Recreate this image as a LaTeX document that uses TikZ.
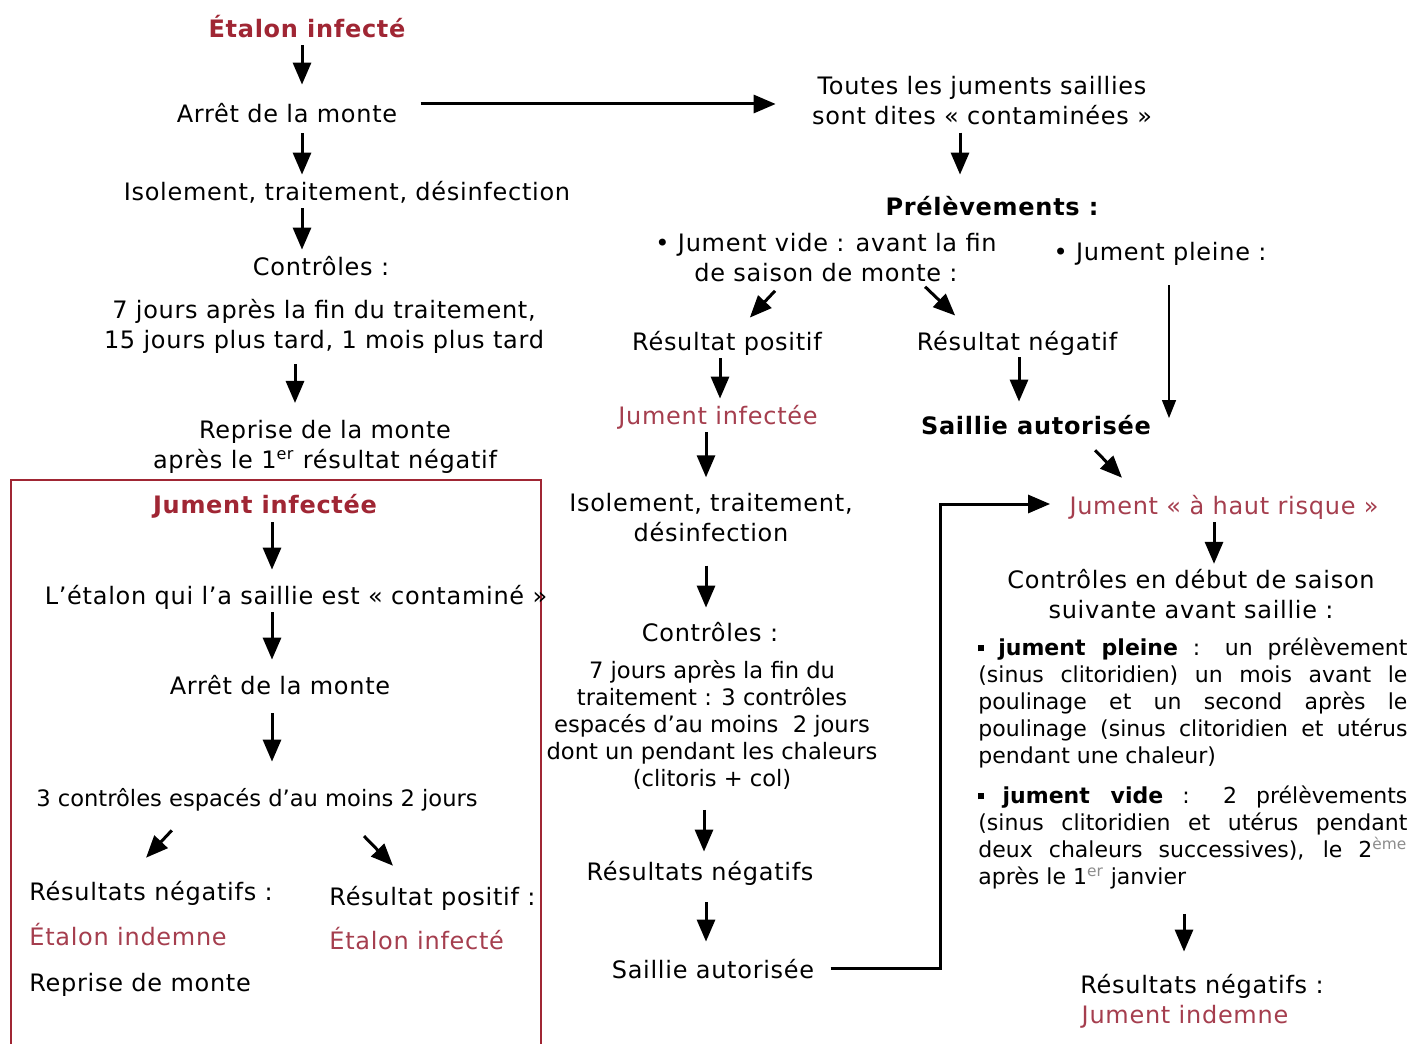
\documentclass[tikz,border=0pt]{standalone}
\usepackage{fontspec}
\setmainfont{DejaVu Sans}[LetterSpace=3]
\newfontfamily\plainfont{DejaVu Sans}
\usetikzlibrary{arrows.meta}
\definecolor{wine}{RGB}{160,38,52}
\definecolor{winelight}{RGB}{165,62,78}
\definecolor{supgray}{RGB}{140,140,140}
\newcommand{\sqbul}{\raisebox{1.8pt}{\rule{2.6pt}{3pt}}}
\begin{document}
\begin{tikzpicture}[x=0.5pt,y=-0.5pt,
  one/.style={inner sep=1pt, text height=11pt, text depth=1pt, font=\fontsize{12}{15}\selectfont},
  multi/.style={inner sep=1pt, align=center, font=\fontsize{12}{15}\selectfont},
  small/.style={inner sep=1pt, align=center, font=\plainfont\fontsize{11.3}{13.5}\selectfont},
  smallone/.style={one, font=\plainfont\fontsize{11.3}{13.5}\selectfont},
  boldone/.style={one, font=\fontsize{12}{15}\selectfont\bfseries},
  boldred/.style={boldone, text=wine},
  redtxt/.style={one, text=winelight},
  para/.style={anchor=north west, inner sep=0pt, align=left, font=\plainfont\fontsize{11}{13.5}\selectfont},
  arr/.style={line width=1.5pt, -{Triangle[length=11pt,width=9pt]}},
  thinarr/.style={line width=0.7pt, -{Triangle[length=9pt,width=7pt]}},
  frame/.style={draw=wine, line width=0.6pt}
]
\useasboundingbox[fill=white] (0,0) rectangle (1411,1043);

% ---------- left column (stallion) ----------
\node[boldred] (n1) at (307,28) {Étalon infecté};
\node[one] (n2) at (287,113) {Arrêt de la monte};
\node[one] (n3) at (347,190) {Isolement, traitement, désinfection};
\node[one] (n4) at (321,265) {Contrôles :};
\node[multi] (n5) at (324,326) {7 jours après la fin du traitement,\\15 jours plus tard, 1 mois plus tard};
\node[multi] (n6) at (325,447) {Reprise de la monte\\après le 1\textsuperscript{er} résultat négatif};

\draw[arr, shorten <=1.5pt, shorten >=7pt] (n1.south -| 302,0) -- (n2.north -| 302,0);
\draw[arr, shorten <=3pt, shorten >=0.5pt] (n2.south -| 302,0) -- (n3.north -| 302,0);
\draw[arr, shorten <=2pt, shorten >=0.5pt] (n3.south -| 302,0) -- (n4.north -| 302,0);
\draw[arr, shorten <=4.5pt, shorten >=7.5pt] (n5.south -| 295,0) -- (n6.north -| 295,0);

% ---------- framed box ----------
\draw[frame] (11,1060) -- (11,480) -- (541,480) -- (541,1060);
\node[boldred] (b1) at (265,503) {Jument infectée};
\node[one] (b2) at (296,594) {L’étalon qui l’a saillie est « contaminé »};
\node[one] (b3) at (280,684) {Arrêt de la monte};
\node[smallone] (b4) at (257,796) {3 contrôles espacés d’au moins 2 jours};
\node[one, anchor=west] (b5) at (27,890) {Résultats négatifs :};
\node[redtxt, anchor=west] (b6) at (27,935) {Étalon indemne};
\node[one, anchor=west] (b7) at (27,981) {Reprise de monte};
\node[one, anchor=west] (b8) at (327,895) {Résultat positif :};
\node[redtxt, anchor=west] (b9) at (327,939) {Étalon infecté};

\draw[arr, shorten <=2.5pt, shorten >=5pt] (b1.south -| 272,0) -- (b2.north -| 272,0);
\draw[arr, shorten <=2pt, shorten >=5pt] (b2.south -| 272,0) -- (b3.north -| 272,0);
\draw[arr, shorten <=7.5pt, shorten >=10pt] (b3.south -| 272,0) -- (b4.north -| 272,0);
\draw[arr, shorten <=13.7pt, shorten >=12.3pt] (b4.south -| 190.6,0) -- (b5.north -| 129.2,0);
\draw[arr, shorten <=18pt, shorten >=10.4pt] (b4.south -| 338.9,0) -- (b8.north -| 407.5,0);

% ---------- middle column (mares) ----------
\node[multi] (m1) at (982,101) {Toutes les juments saillies\\sont dites « contaminées »};
\node[boldone] (m2) at (992,205) {Prélèvements :};
\node[multi] (m3) at (826,258) {• Jument vide : avant la fin\\de saison de monte :};
\node[one] (m4) at (1160,250) {• Jument pleine :};
\node[one] (m5) at (727,340) {Résultat positif};
\node[one] (m6) at (1017,340) {Résultat négatif};
\node[redtxt] (m7) at (718,414) {Jument infectée};
\node[boldone] (m8) at (1036,424) {Saillie autorisée};
\node[multi] (m9) at (711,518) {Isolement, traitement,\\désinfection};
\node[one] (m10) at (710,631) {Contrôles :};
\node[small] (m11) at (712,725) {7 jours après la fin du\\traitement : 3 contrôles\\espacés d’au moins\ \ 2 jours\\dont un pendant les chaleurs\\(clitoris + col)};
\node[one] (m12) at (700,870) {Résultats négatifs};
\node[one] (m13) at (713,968) {Saillie autorisée};

\draw[arr, shorten <=10.5pt, shorten >=17pt] (n2.east |- 0,104) -- (m1.west |- 0,104);
\draw[arr, shorten <=2.5pt, shorten >=8pt] (m1.south -| 960,0) -- (m2.north -| 960,0);
\draw[arr, shorten <=4.2pt, shorten >=5.5pt] (m3.south -| 780.8,0) -- (m5.north -| 742.3,0);
\draw[arr, shorten <=1.5pt, shorten >=7.3pt] (m3.south -| 922.9,0) -- (m6.north -| 965.7,0);
\draw[arr, shorten <=2pt, shorten >=0.5pt] (m5.south -| 720,0) -- (m7.north -| 720,0);
\draw[arr, shorten <=1.5pt, shorten >=4pt] (m6.south -| 1019,0) -- (m8.north -| 1019,0);
\draw[thinarr, shorten <=10.5pt, shorten >=3pt] (m4.south -| 1169,0) -- (m8.center -| 1169,0);
\draw[arr, shorten <=2pt, shorten >=7pt] (m7.south -| 706,0) -- (m9.north -| 706,0);
\draw[arr, shorten <=10.5pt, shorten >=4.5pt] (m9.south -| 706,0) -- (m10.north -| 706,0);
\draw[arr, shorten <=9pt, shorten >=2pt] (m11.south -| 704,0) -- (m12.north -| 704,0);
\draw[arr, shorten <=9pt, shorten >=6pt] (m12.south -| 706,0) -- (m13.north -| 706,0);

% ---------- right column ----------
\node[redtxt] (r1) at (1224,504) {Jument « à haut risque »};
\node[multi] (r2) at (1191,594) {Contrôles en début de saison\\suivante avant saillie :};
\node[para] (r3) at (978,637) {%
\makebox[214.5pt][s]{\sqbul{} \textbf{jument pleine} : un prélèvement}\\
\makebox[214.5pt][s]{(sinus clitoridien) un mois avant le}\\
\makebox[214.5pt][s]{poulinage et un second après le}\\
\makebox[214.5pt][s]{poulinage (sinus clitoridien et utérus}\\
pendant une chaleur)};
\node[para] (r4) at (978,785) {%
\makebox[214.5pt][s]{\sqbul{} \textbf{jument vide} : 2 prélèvements}\\
\makebox[214.5pt][s]{(sinus clitoridien et utérus pendant}\\
\makebox[214.5pt][s]{deux chaleurs successives), le 2\textsuperscript{\textcolor{supgray}{ème}}}\\
après le 1\textsuperscript{\textcolor{supgray}{er}} janvier};
\node[one] (r5) at (1202,983) {Résultats négatifs :};
\node[redtxt] (r6) at (1185,1013) {Jument indemne};

\draw[arr, shorten <=8.3pt, shorten >=8.3pt] (m8.south -| 1083.4,0) -- (r1.north -| 1133.6,0);
\draw[arr, shorten <=2pt, shorten >=1.5pt] (r1.south -| 1214,0) -- (r2.north -| 1214,0);
\draw[arr, shorten <=12.5pt, shorten >=8.5pt] (r4.south -| 1184,0) -- (r5.north -| 1184,0);
\draw[arr, shorten <=7pt, shorten >=8.5pt] (m13.east |- 0,968) -- (940,968) -- (940,504) -- (r1.west |- 0,504);
\end{tikzpicture}
\end{document}
